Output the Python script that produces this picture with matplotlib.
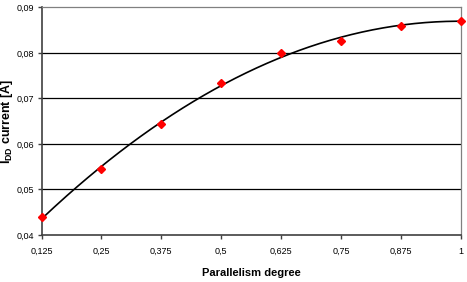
#parallelism degree vs IDD current, with a 2nd order trend line
import numpy as np
import matplotlib
matplotlib.use("Agg")
import matplotlib.pyplot as plt
from matplotlib.ticker import FuncFormatter

plt.rcParams["font.family"] = ["Liberation Sans", "DejaVu Sans"]
plt.rcParams["mathtext.fontset"] = "custom"
plt.rcParams["mathtext.rm"] = "Liberation Sans"
plt.rcParams["mathtext.bf"] = "Liberation Sans:bold"

#measured values
parallelism = [0.125, 0.25, 0.375, 0.5, 0.625, 0.75, 0.875, 1.0]
idd_current = [0.0440, 0.0544, 0.0643, 0.0733, 0.0800, 0.0827, 0.0859, 0.0871]
x_ticks = [0.125, 0.25, 0.375, 0.5, 0.625, 0.75, 0.875, 1.0]
y_ticks = [0.04, 0.05, 0.06, 0.07, 0.08, 0.09]

#polynomial trend line like excel does
coef = np.polyfit(parallelism, idd_current, 2)
xs = np.linspace(0.125, 1.0, 200)
ys = np.polyval(coef, xs)

fig = plt.figure(figsize=(4.67, 2.82), dpi=100)
ax = fig.add_axes([41.5 / 467, 1 - 235 / 282, (461 - 41.5) / 467, (235 - 7.3) / 282])

for y in y_ticks[1:-1]:
    ax.axhline(y, color="black", linewidth=0.9, zorder=1)

ax.plot(xs, ys, color="black", linewidth=1.2, zorder=2)
ax.plot(parallelism, idd_current, linestyle="none", marker="D", markersize=4.5,
        color="#ff0000", zorder=3, clip_on=False)

ax.set_xlim(0.125, 1.0)
ax.set_ylim(0.04, 0.09)
ax.set_xticks(x_ticks)
ax.set_yticks(y_ticks)

def comma(v, pos):
    s = ("%.3f" % v).rstrip("0").rstrip(".")
    return s.replace(".", ",")

ax.xaxis.set_major_formatter(FuncFormatter(comma))
ax.yaxis.set_major_formatter(FuncFormatter(lambda v, p: ("%.2f" % v).replace(".", ",")))
ax.tick_params(labelsize=6.5, length=3, width=1, color="#404040")
ax.tick_params(axis="x", pad=5.5)
ax.tick_params(axis="y", pad=2.5)

for side in ["top", "right"]:
    ax.spines[side].set_color("#808080")
    ax.spines[side].set_linewidth(0.9)
for side in ["left", "bottom"]:
    ax.spines[side].set_color("#404040")
    ax.spines[side].set_linewidth(1.2)

ax.set_xlabel("Parallelism degree", fontsize=8, fontweight="bold", labelpad=8.5)
ax.set_ylabel(r"I$_{\mathbf{DD}}$ current [A]", fontsize=9, fontweight="bold")
ax.yaxis.set_label_coords(-0.063, 0.5)

fig.savefig("out.png", dpi=100)
